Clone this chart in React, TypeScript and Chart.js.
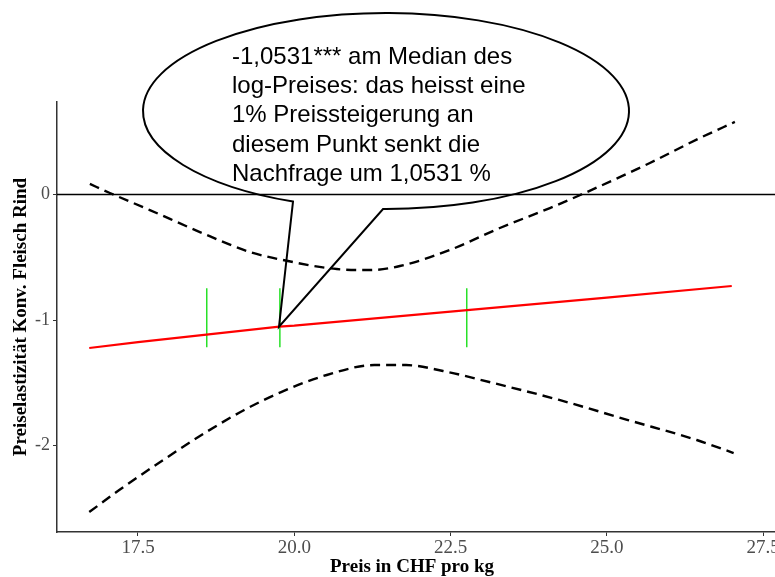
import React, { useEffect, useRef } from "react";
import { Chart, registerables } from "chart.js";
Chart.register(...registerables);

// ---- data ----
const priceTicks = [17.5, 20.0, 22.5, 25.0, 27.5];
const elasticityTicks = [-2, -1, 0];

const fitPrice = [16.72, 17.5, 19.76, 20.0, 22.5, 25.0, 27.0];
const fitElasticity = [-1.223, -1.176, -1.053, -1.045, -0.933, -0.821, -0.729];

const upperPrice = [16.73, 17.05, 17.69, 18.49, 19.29, 19.82, 20.68, 21.21, 21.69, 22.49, 23.29, 24.09, 24.54, 25.69, 26.49, 27.05];
const upperElasticity = [0.084, 0.012, -0.124, -0.299, -0.458, -0.522, -0.594, -0.602, -0.57, -0.442, -0.267, -0.108, -0.012, 0.251, 0.45, 0.578];

const lowerPrice = [16.72, 17.2, 17.95, 18.6, 19.2, 19.79, 20.52, 21.28, 21.79, 22.38, 23.12, 24.24, 25.34, 26.44, 27.03];
const lowerElasticity = [-2.53, -2.355, -2.1, -1.89, -1.717, -1.574, -1.438, -1.359, -1.359, -1.406, -1.494, -1.637, -1.797, -1.956, -2.06];

const quartilePrice = [18.6, 19.77, 22.76];
const quartileLow = -1.218;
const quartileHigh = -0.747;

const medianPrice = 19.756;
const medianElasticity = -1.0531;

const calloutLines = [
  "-1,0531*** am Median des",
  "log-Preises: das heisst eine",
  "1% Preissteigerung an",
  "diesem Punkt senkt die",
  "Nachfrage um 1,0531 %",
];
const calloutCenter = { x: 21.468, y: 0.665 };

const xTitle = "Preis in CHF pro kg";
const yTitle = "Preiselastizität Konv. Fleisch Rind";

const X_MIN = 16.204;
const X_MAX = 27.692;
const Y_MIN = -2.689;
const Y_MAX = 0.737;

const SERIF = "'Liberation Serif', 'DejaVu Serif', serif";
const SANS = "'Liberation Sans', Arial, sans-serif";

const pts = (xs: number[], ys: number[]) => xs.map((x, i) => ({ x, y: ys[i] }));

const annotPlugin = {
  id: "annot",
  beforeDatasetsDraw(chart: any) {
    const { ctx, chartArea, scales } = chart;
    const py = scales.y.getPixelForValue(0);
    ctx.save();
    ctx.strokeStyle = "#000";
    ctx.lineWidth = 1.5;
    ctx.beginPath();
    ctx.moveTo(chartArea.left, py);
    ctx.lineTo(chartArea.right, py);
    ctx.stroke();
    ctx.restore();
  },
  afterDraw(chart: any) {
    const { ctx, chartArea, scales } = chart;
    const xs = scales.x;
    const ys = scales.y;
    ctx.save();
    // axis titles
    ctx.fillStyle = "#000";
    ctx.font = `bold 19px ${SERIF}`;
    ctx.textAlign = "center";
    ctx.textBaseline = "alphabetic";
    ctx.fillText(xTitle, (chartArea.left + chartArea.right) / 2 - 4, chartArea.bottom + 40);
    ctx.save();
    ctx.translate(25.5, (chartArea.top + chartArea.bottom) / 2);
    ctx.rotate(-Math.PI / 2);
    ctx.fillText(yTitle, 0, 0);
    ctx.restore();

    // callout bubble
    const cx = xs.getPixelForValue(calloutCenter.x);
    const cy = ys.getPixelForValue(calloutCenter.y);
    const rx = 243;
    const ry = 98;
    const tipX = xs.getPixelForValue(medianPrice);
    const tipY = ys.getPixelForValue(medianElasticity);
    const a1 = (90.7 * Math.PI) / 180;
    const a2 = (112.5 * Math.PI) / 180;
    ctx.strokeStyle = "#000";
    ctx.lineWidth = 2;
    ctx.lineJoin = "miter";
    ctx.beginPath();
    ctx.moveTo(cx + rx * Math.cos(a1), cy + ry * Math.sin(a1));
    ctx.ellipse(cx, cy, rx, ry, 0, a1, a2, true);
    ctx.lineTo(tipX, tipY);
    ctx.closePath();
    ctx.stroke();

    ctx.fillStyle = "#000";
    ctx.font = `24px ${SANS}`;
    ctx.textAlign = "left";
    ctx.textBaseline = "alphabetic";
    calloutLines.forEach((line, i) => {
      ctx.fillText(line, cx - 154, cy - 47.5 + i * 29.4);
    });
    ctx.restore();
  },
};

export default function App() {
  const ref = useRef<HTMLCanvasElement>(null);
  useEffect(() => {
    const canvas = ref.current!;
    const quartileSets = quartilePrice.map((p) => ({
      data: [
        { x: p, y: quartileLow },
        { x: p, y: quartileHigh },
      ],
      borderColor: "rgb(40,225,40)",
      borderWidth: 1.5,
      pointRadius: 0,
      order: 5,
    }));
    const chart = new Chart(canvas, {
      type: "line",
      data: {
        datasets: [
          ...quartileSets,
          {
            data: pts(fitPrice, fitElasticity),
            borderColor: "#ff0000",
            borderWidth: 2.2,
            pointRadius: 0,
            order: 3,
          },
          {
            data: pts(upperPrice, upperElasticity),
            borderColor: "#000",
            borderWidth: 2.4,
            borderDash: [10, 6],
            pointRadius: 0,
            cubicInterpolationMode: "monotone",
            order: 2,
          },
          {
            data: pts(lowerPrice, lowerElasticity),
            borderColor: "#000",
            borderWidth: 2.4,
            borderDash: [10, 6],
            pointRadius: 0,
            cubicInterpolationMode: "monotone",
            order: 2,
          },
        ] as any,
      },
      options: {
        animation: false,
        responsive: false,
        layout: { padding: { top: 102, left: 0, right: 0, bottom: 0 } },
        plugins: { legend: { display: false }, tooltip: { enabled: false }, title: { display: false } },
        scales: {
          x: {
            type: "linear",
            min: X_MIN,
            max: X_MAX,
            afterBuildTicks: (s: any) => {
              s.ticks = priceTicks.map((v) => ({ value: v }));
            },
            afterFit: (s: any) => {
              s.height = 45;
              s.paddingLeft = 0;
              s.paddingRight = 0;
            },
            ticks: {
              autoSkip: false,
              maxRotation: 0,
              color: "#4d4d4d",
              padding: 1,
              font: { family: SERIF, size: 19 },
              callback: (v: any) => Number(v).toFixed(1),
            },
            grid: { display: true, drawOnChartArea: false, drawTicks: true, tickLength: 4, color: "#333", lineWidth: 1 },
            border: { display: true, color: "#333", width: 1.5 },
          },
          y: {
            type: "linear",
            min: Y_MIN,
            max: Y_MAX,
            afterBuildTicks: (s: any) => {
              s.ticks = elasticityTicks.map((v) => ({ value: v }));
            },
            afterFit: (s: any) => {
              s.width = 57;
              s.paddingTop = 0;
              s.paddingBottom = 0;
            },
            ticks: {
              color: "#4d4d4d",
              padding: 3,
              font: { family: SERIF, size: 18 },
              callback: (v: any) => String(v),
            },
            grid: { display: true, drawOnChartArea: false, drawTicks: true, tickLength: 4, color: "#333", lineWidth: 1 },
            border: { display: true, color: "#333", width: 1.5 },
          },
        },
      } as any,
      plugins: [annotPlugin],
    });
    return () => chart.destroy();
  }, []);
  return (
    <div style={{ position: "fixed", left: 0, top: 0, width: 775, height: 577, background: "#fff", overflow: "hidden" }}>
      <canvas ref={ref} width={775} height={577} style={{ display: "block", width: 775, height: 577 }} />
    </div>
  );
}
